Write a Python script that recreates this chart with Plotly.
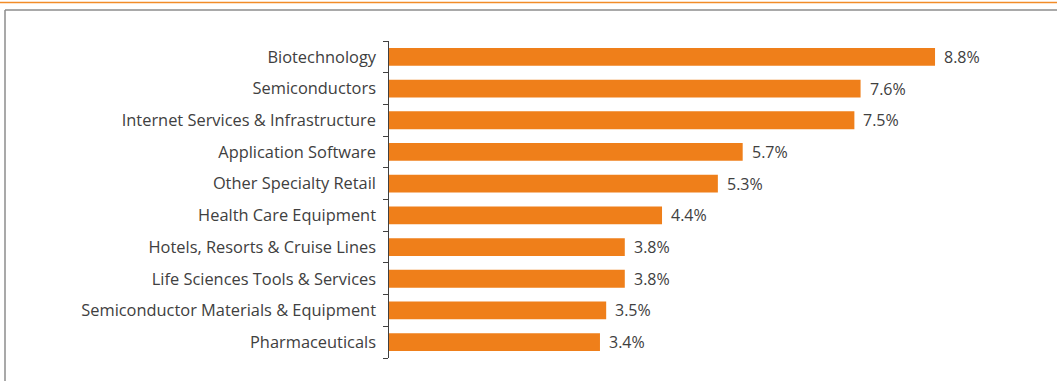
import plotly.graph_objects as go

industries = [
    "Biotechnology",
    "Semiconductors",
    "Internet Services & Infrastructure",
    "Application Software",
    "Other Specialty Retail",
    "Health Care Equipment",
    "Hotels, Resorts & Cruise Lines",
    "Life Sciences Tools & Services",
    "Semiconductor Materials & Equipment",
    "Pharmaceuticals",
]
weights = [8.8, 7.6, 7.5, 5.7, 5.3, 4.4, 3.8, 3.8, 3.5, 3.4]

W, H = 1057, 381
ML, MR, MT, MB = 389, 17, 41, 23
plot_w = W - ML - MR
plot_h = H - MT - MB
px_per_unit = 62.05

n = len(industries)
pos = list(range(n))

BAR = "#EF7F1A"
TEXT = "#404040"
FONT = "Open Sans, Noto Sans, sans-serif"
FS = 16
FS_CAT = 16.4

fig = go.Figure()
fig.add_trace(go.Bar(
    x=weights,
    y=pos,
    orientation="h",
    marker=dict(color=BAR, line=dict(width=0)),
    width=0.56,
    hoverinfo="skip",
))

# value labels just past the end of each bar
for p, v in zip(pos, weights):
    fig.add_annotation(
        x=v, y=p, xref="x", yref="y",
        text=f"{v:.1f}%",
        showarrow=False,
        xanchor="left", yanchor="middle",
        xshift=7,
        font=dict(size=FS, color=TEXT, family=FONT),
    )


def px_x(px):
    return (px - ML) / plot_w


def px_y(py):
    return (H - MB - py) / plot_h


fig.update_layout(
    width=W,
    height=H,
    margin=dict(l=ML, r=MR, t=MT, b=MB, pad=0),
    paper_bgcolor="white",
    plot_bgcolor="white",
    showlegend=False,
    font=dict(family=FONT, color=TEXT, size=FS),
    xaxis=dict(
        range=[0, plot_w / px_per_unit],
        visible=False,
        fixedrange=True,
    ),
    yaxis=dict(
        range=[n - 0.5, -0.5],
        tickmode="array",
        tickvals=pos,
        ticktext=industries,
        ticks="",
        showline=False,
        showgrid=False,
        zeroline=False,
        tickfont=dict(size=FS_CAT, color=TEXT, family=FONT),
        ticklabelstandoff=12,
    ),
    yaxis2=dict(
        overlaying="y",
        side="left",
        range=[n - 0.5, -0.5],
        tickmode="array",
        tickvals=[p - 0.5 for p in pos] + [n - 0.5],
        showticklabels=False,
        ticks="outside",
        ticklen=5,
        tickwidth=1.2,
        tickcolor="#404040",
        showline=True,
        linecolor="#404040",
        linewidth=1.2,
        showgrid=False,
        zeroline=False,
    ),
    shapes=[
        # thin orange rule across the top
        dict(type="line", xref="paper", yref="paper",
             x0=px_x(0), x1=px_x(W), y0=px_y(2.5), y1=px_y(2.5),
             line=dict(color="#F28C28", width=1.5)),
        # grey frame: top edge and left edge
        dict(type="line", xref="paper", yref="paper",
             x0=px_x(5), x1=px_x(W), y0=px_y(10), y1=px_y(10),
             line=dict(color="#8C8C8C", width=1.5)),
        dict(type="line", xref="paper", yref="paper",
             x0=px_x(5), x1=px_x(5), y0=px_y(10), y1=px_y(H),
             line=dict(color="#8C8C8C", width=1.5)),
    ],
)

# invisible trace so the tick axis is drawn
fig.add_trace(go.Scatter(x=[None], y=[None], yaxis="y2", hoverinfo="skip"))

fig.write_html("out.html")
